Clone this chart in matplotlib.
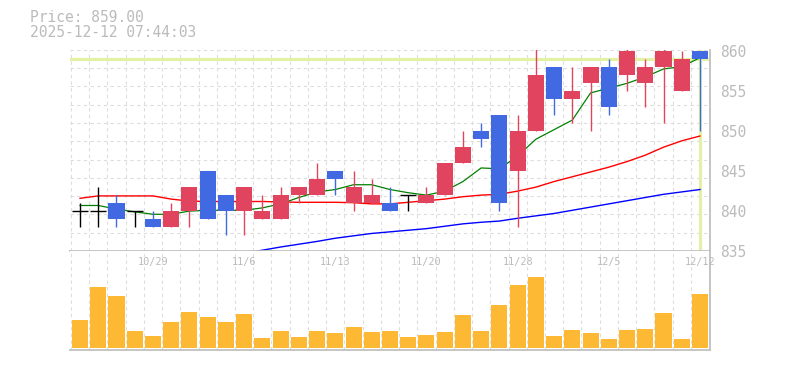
import numpy as np
import matplotlib
matplotlib.use("Agg")
import matplotlib.pyplot as plt
from matplotlib.ticker import FixedLocator, NullFormatter

# ---------------- data ----------------
dates = ["10/23", "10/24", "10/27", "10/28", "10/29", "10/30", "10/31", "11/4", "11/5",
         "11/6", "11/7", "11/10", "11/11", "11/12", "11/13", "11/14", "11/17", "11/18",
         "11/19", "11/20", "11/21", "11/25", "11/26", "11/27", "11/28", "12/1", "12/2",
         "12/3", "12/4", "12/5", "12/8", "12/9", "12/10", "12/11", "12/12"]
label_dates = ["10/29", "11/6", "11/13", "11/20", "11/28", "12/5", "12/12"]

opens  = [840, 840, 841, 840, 839, 838, 840, 845, 842, 840, 839, 839, 842, 842, 845, 841, 841, 841,
          842, 841, 842, 846, 850, 852, 845, 850, 858, 854, 856, 858, 857, 856, 858, 855, 860]
highs  = [841, 843, 842, 840, 840, 841, 843, 845, 842, 843, 842, 843, 843, 846, 845, 845, 844, 843,
          842, 843, 846, 850, 851, 852, 852, 861, 858, 858, 858, 859, 861, 859, 861, 860, 860]
lows   = [838, 838, 838, 838, 838, 838, 838, 839, 837, 837, 839, 839, 841, 842, 842, 840, 841, 840,
          840, 841, 842, 846, 848, 840, 838, 850, 852, 851, 850, 852, 855, 853, 851, 855, 850]
closes = [840, 840, 839, 840, 838, 840, 843, 839, 840, 843, 840, 842, 843, 844, 844, 843, 842, 840,
          842, 842, 846, 848, 849, 841, 850, 857, 854, 855, 858, 853, 860, 858, 860, 859, 859]
volumes = [85, 184, 157, 52, 37, 79, 109, 94, 79, 103, 31, 52, 34, 52, 46, 64, 49, 52,
           34, 40, 49, 100, 52, 130, 190, 214, 37, 55, 46, 28, 55, 58, 106, 28, 163]

ma_short = [840.7, 840.7, 840.25, 839.9, 839.6, 839.6, 840.0, 840.1, 840.1, 840.1, 840.4, 840.9,
            841.7, 842.4, 842.7, 843.3, 843.3, 842.7, 842.3, 842.0, 842.5, 843.7, 845.4, 845.3,
            846.9, 849.0, 850.2, 851.4, 854.8, 855.4, 856.0, 856.8, 857.8, 858.1, 859.2]
ma_mid = [841.6, 841.9, 841.9, 841.9, 841.9, 841.5, 841.25, 841.2, 841.2, 841.2, 841.2, 841.15,
          841.1, 841.1, 841.1, 841.05, 840.9, 840.9, 841.1, 841.3, 841.5, 841.8, 842.0, 842.1,
          842.5, 843.0, 843.7, 844.3, 844.9, 845.5, 846.2, 847.0, 848.0, 848.8, 849.4]
ma_long = [np.nan] * 9 + [834.7, 835.1, 835.5, 835.85, 836.2, 836.6, 836.9, 837.2, 837.4, 837.6,
                          837.8, 838.1, 838.4, 838.6, 838.75, 839.1, 839.4, 839.7, 840.1, 840.5,
                          840.9, 841.3, 841.7, 842.1, 842.4, 842.7]

current_price = 859.00
timestamp = "2025-12-12 07:44:03"
price_ticks = [835, 840, 845, 850, 855, 860]

# ---------------- style ----------------
W, H = 785, 370
UP = "#e0445e"
DOWN = "#4169e1"
VOLC = "#fdb933"
TXT = "#bbbbbb"
GRID = "#dddddd"
SPINE = "#c0c0c0"
CUR = "#e2f1a4"
MONO = ["DejaVu Sans Mono"]

fig = plt.figure(figsize=(W / 100, H / 100), dpi=100)
fig.patch.set_facecolor("white")

L, R = 70, 710
ax = fig.add_axes([L / W, 1 - 251 / H, (R - L) / W, 201.2 / H])
axv = fig.add_axes([L / W, 1 - 349.7 / H, (R - L) / W, 98.7 / H])

n = len(closes)
x = np.arange(n)
xlim = (-0.55, n - 1 + 0.55)
ylim = (835, 860.2)
bw = 0.88

for a in (ax, axv):
    a.set_xlim(*xlim)
    for s in ("left", "top"):
        a.spines[s].set_visible(False)
    for s in ("right", "bottom"):
        a.spines[s].set_color(SPINE)
        a.spines[s].set_linewidth(1.3)
    a.xaxis.set_minor_locator(FixedLocator(np.arange(-0.5, n, 1.0)))
    a.set_xticks([])
    a.grid(which="minor", axis="x", color=GRID, linestyle=(0, (3, 3)), linewidth=0.8)
    a.set_axisbelow(True)
    a.tick_params(which="both", length=0)

# price panel
ax.set_ylim(*ylim)
ax.yaxis.set_minor_locator(FixedLocator(np.linspace(ylim[0], ylim[1], 12)))
ax.grid(which="minor", axis="y", color=GRID, linestyle=(0, (3, 3)), linewidth=0.8)
ax.yaxis.tick_right()
ax.set_yticks(price_ticks)
ax.set_yticklabels([str(p) for p in price_ticks])
ax.tick_params(axis="y", which="major", length=0, pad=7, labelcolor=TXT, labelsize=10.5)
for t in ax.get_yticklabels():
    t.set_family(MONO)

# current price lines
ax.axhline(current_price, color=CUR, linewidth=2.3, zorder=1)
ax.axvline(x[-1], color=CUR, linewidth=2.3, zorder=1)

# moving averages
ax.plot(x, ma_long, color="#0000ff", linewidth=1.0, zorder=2)
ax.plot(x, ma_mid, color="#ff0000", linewidth=1.0, zorder=2)
ax.plot(x, ma_short, color="#008000", linewidth=0.9, zorder=2)

# candles
for i in range(n):
    o, h, l, c = opens[i], highs[i], lows[i], closes[i]
    if c > o:
        col = UP
    elif c < o:
        col = DOWN
    else:
        col = "black"
    ax.vlines(x[i], l, h, color=col, linewidth=1.0, zorder=3)
    if c == o:
        ax.hlines(o, x[i] - bw / 2, x[i] + bw / 2, color="black", linewidth=1.0, zorder=4)
    else:
        ax.bar(x[i], abs(c - o), bottom=min(o, c), width=bw, color=col, zorder=4, linewidth=0)

# volume panel
axv.set_ylim(-4, 292)
axv.set_yticks([])
axv.bar(x, volumes, width=bw, color=VOLC, zorder=3, linewidth=0)
for d in label_dates:
    i = dates.index(d)
    axv.text(x[i], 1 - 11 / 98.7, d, ha="center", va="center", color=TXT, fontsize=7.4,
             family=MONO, transform=axv.get_xaxis_transform(), zorder=5)

# header text
fig.text(30 / W, 1 - 18 / H, f"Price: {current_price:.2f}", color=TXT, fontsize=10.5,
         family=MONO, ha="left", va="center")
fig.text(30 / W, 1 - 32.5 / H, timestamp, color=TXT, fontsize=10.5, family=MONO,
         ha="left", va="center")

fig.savefig("out.png", dpi=100)
